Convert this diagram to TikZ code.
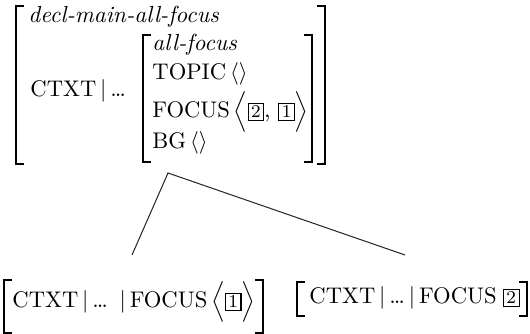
\documentclass[tikz,border=0pt]{standalone}
\newcommand{\ft}[1]{{\fontsize{10}{12}\selectfont #1}}
\newcommand{\tg}[1]{{\setlength{\fboxsep}{1pt}\setlength{\fboxrule}{0.45pt}\fbox{\footnotesize\makebox[0.55em]{#1}}}}
\newcommand{\lbrk}[3]{\draw[brk] (#1,#2) ++(8,0) -- ++(-8,0) -- (#1,#3) -- ++(8,0);}
\newcommand{\rbrk}[3]{\draw[brk] (#1,#2) ++(-8,0) -- ++(8,0) -- (#1,#3) -- ++(-8,0);}
\begin{document}
\begin{tikzpicture}[x=0.4425pt,y=-0.4425pt,
  brk/.style={line width=0.9pt},
  txt/.style={anchor=base west,inner sep=0pt,font=\fontsize{10.3}{12}\selectfont},
  branch/.style={line width=0.45pt,black!85}]
\useasboundingbox (0,0) rectangle (530,334);
% top AVM
\lbrk{16}{6}{164}
\rbrk{325}{6}{164}
\node[txt] (type) at (28,23) {\textit{decl-main-all-focus}};
\node[txt] (ctxt) at (30,97) {\ft{CTXT}\,$|$\,\dots};
\lbrk{143}{35}{162}
\rbrk{312}{35}{162}
\node[txt] (itype) at (152,51) {\textit{all-focus}};
\node[txt] (topic) at (152,80) {\ft{TOPIC}\,$\langle\rangle$};
\node[txt] (focus) at (152,118) {\ft{FOCUS}\,$\Big\langle$\tg{2}, \tg{1}$\Big\rangle$};
\node[txt] (bg) at (152,149) {\ft{BG}\,$\langle\rangle$};
% tree
\coordinate (apex) at (168,173);
\coordinate (lend) at (132,255);
\coordinate (rend) at (405,255);
\draw[branch] (lend) -- (apex) -- (rend);
% bottom left
\lbrk{4}{280}{333}
\rbrk{263}{280}{333}
\node[txt] (left) at (12,308) {\ft{CTXT}\,$|$\,\dots\enspace$|$\,\ft{FOCUS}\,$\Big\langle$\tg{1}$\Big\rangle$};
% bottom right
\lbrk{297}{282}{316}
\rbrk{527}{282}{316}
\node[txt] (right) at (309,304) {\ft{CTXT}\,$|$\,\dots\,$|$\,\ft{FOCUS}\;\tg{2}};
\end{tikzpicture}
\end{document}
